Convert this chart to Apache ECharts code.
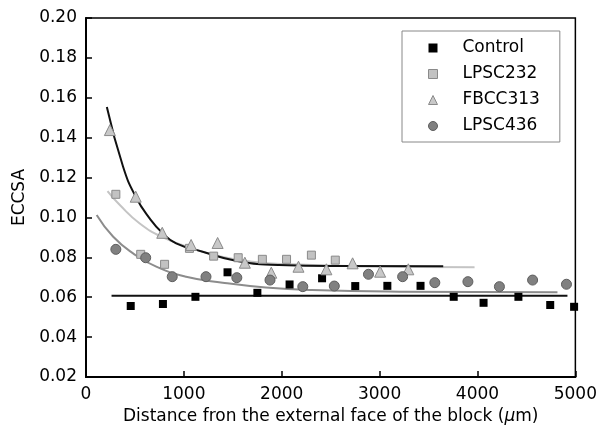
<!DOCTYPE html>
<html><head><meta charset="utf-8">
<script src="https://cdn.jsdelivr.net/npm/echarts@6/dist/echarts.min.js"></script>
<style>html,body{margin:0;padding:0;background:#fff}#c{width:600px;height:431px}</style>
</head><body><div id="c"></div>
<script>
// ---- data ----
const seriesNames = ['Control', 'LPSC232', 'FBCC313', 'LPSC436'];
const xTicks = [0, 1000, 2000, 3000, 4000, 5000];
const yTicks = [0.02, 0.04, 0.06, 0.08, 0.10, 0.12, 0.14, 0.16, 0.18, 0.20];

const controlX = [457, 786, 1118, 1446, 1751, 2080, 2412, 2751, 3079, 3418, 3757, 4062, 4418, 4743, 4987];
const controlY = [0.0556, 0.0566, 0.0602, 0.0725, 0.0622, 0.0664, 0.0695, 0.0656, 0.0657, 0.0657, 0.0602, 0.0572, 0.0602, 0.0561, 0.0552];

const lpsc232X = [305, 559, 803, 1057, 1304, 1555, 1802, 2049, 2303, 2547];
const lpsc232Y = [0.1116, 0.0815, 0.0765, 0.0845, 0.0806, 0.0798, 0.0790, 0.0790, 0.0811, 0.0786];

const fbcc313X = [244, 508, 779, 1074, 1345, 1623, 1893, 2171, 2456, 2724, 3005, 3293];
const fbcc313Y = [0.1438, 0.1104, 0.0923, 0.0862, 0.0872, 0.0773, 0.0723, 0.0753, 0.0740, 0.0770, 0.0728, 0.0740];

const lpsc436X = [305, 610, 881, 1226, 1541, 1880, 2215, 2537, 2886, 3235, 3564, 3902, 4224, 4563, 4909];
const lpsc436Y = [0.0840, 0.0798, 0.0703, 0.0703, 0.0698, 0.0686, 0.0653, 0.0656, 0.0715, 0.0703, 0.0673, 0.0678, 0.0653, 0.0686, 0.0665];

// fitted curves as drawn in the picture
const controlFitX = [261, 4919];
const controlFitY = [0.0607, 0.0607];
const lpsc232FitX = [220, 346, 549, 786, 1057, 1362, 1700, 2107, 2800, 3970];
const lpsc232FitY = [0.1132, 0.1062, 0.0970, 0.0900, 0.0850, 0.0806, 0.0778, 0.0765, 0.0755, 0.0750];
const fbcc313FitX = [213, 379, 508, 650, 779, 921, 1192, 1531, 1972, 2600, 3650];
const fbcc313FitY = [0.1554, 0.1254, 0.1104, 0.0995, 0.0923, 0.0870, 0.0828, 0.0783, 0.0761, 0.0756, 0.0755];
const lpsc436FitX = [109, 278, 481, 718, 1023, 1396, 1836, 2310, 3200, 4817];
const lpsc436FitY = [0.1012, 0.0903, 0.0820, 0.0753, 0.0703, 0.0673, 0.0649, 0.0636, 0.0628, 0.0625];

const zip = (xs, ys) => xs.map((x, i) => [x, ys[i]]);
const FONT = 'DejaVu Sans';

const chart = echarts.init(document.getElementById('c'), null, {renderer: 'canvas'});

function fitLine(xs, ys, color) {
  return {
    type: 'line', data: zip(xs, ys), smooth: 0.5,
    symbol: 'none', lineStyle: {color: color, width: 2}, z: 1, silent: true
  };
}

const styles = {
  Control: {symbol: 'rect', size: 8, itemStyle: {color: '#000', borderWidth: 0, opacity: 1}},
  LPSC232: {symbol: 'rect', size: 8, itemStyle: {color: '#c2c2c2', borderColor: '#8a8a8a', borderWidth: 1, opacity: 1}},
  FBCC313: {symbol: 'triangle', size: 11, itemStyle: {color: '#c8c8c8', borderColor: '#8a8a8a', borderWidth: 1, opacity: 1}},
  LPSC436: {symbol: 'circle', size: 10, itemStyle: {color: '#808080', borderColor: '#5e5e5e', borderWidth: 1, opacity: 1}}
};
const pointData = {
  Control: zip(controlX, controlY),
  LPSC232: zip(lpsc232X, lpsc232Y),
  FBCC313: zip(fbcc313X, fbcc313Y),
  LPSC436: zip(lpsc436X, lpsc436Y)
};

chart.setOption({
  animation: false,
  backgroundColor: '#fff',
  grid: {left: 86, right: 22, top: 18, bottom: 54, show: true, borderColor: '#000', borderWidth: 1.5},
  legend: {
    data: seriesNames.map(n => ({name: n, icon: styles[n].symbol, itemStyle: styles[n].itemStyle})),
    orient: 'vertical', left: 402, top: 31,
    padding: [7, 20, 6, 26],
    itemWidth: 9, itemHeight: 9, itemGap: 6,
    borderColor: '#888', borderWidth: 1,
    textStyle: {fontFamily: FONT, fontSize: 17, color: '#000', lineHeight: 20, padding: [0, 0, 0, 20]}
  },
  xAxis: {
    type: 'value', min: 0, max: 5000, interval: 1000,
    name: 'Distance fron the external face of the block ({i|μ}m)',
    nameLocation: 'middle', nameGap: 26,
    nameTextStyle: {fontFamily: FONT, fontSize: 17, color: '#000',
      rich: {i: {fontFamily: FONT, fontSize: 17, fontStyle: 'italic', color: '#000'}}},
    axisLine: {lineStyle: {color: '#000', width: 2}},
    axisTick: {inside: true, length: 6, lineStyle: {color: '#000', width: 1.5}},
    axisLabel: {fontFamily: FONT, fontSize: 17, color: '#000', margin: 9,
      formatter: v => xTicks.includes(v) ? String(v) : ''},
    splitLine: {show: false}
  },
  yAxis: {
    type: 'value', min: 0.02, max: 0.20, interval: 0.02,
    name: 'ECCSA', nameLocation: 'middle', nameGap: 50,
    nameTextStyle: {fontFamily: FONT, fontSize: 17, color: '#000'},
    axisLine: {lineStyle: {color: '#000', width: 2}},
    axisTick: {inside: true, length: 6, lineStyle: {color: '#000', width: 1.5}},
    axisLabel: {fontFamily: FONT, fontSize: 17, color: '#000', margin: 9,
      formatter: v => v.toFixed(2)},
    splitLine: {show: false}
  },
  series: [
    fitLine(lpsc436FitX, lpsc436FitY, '#8c8c8c'),
    fitLine(lpsc232FitX, lpsc232FitY, '#c4c4c4'),
    fitLine(controlFitX, controlFitY, '#111'),
    fitLine(fbcc313FitX, fbcc313FitY, '#111')
  ].concat(seriesNames.map(n => ({
    name: n, type: 'scatter', data: pointData[n], symbol: styles[n].symbol, symbolSize: styles[n].size,
    itemStyle: styles[n].itemStyle, z: 3
  })))
});
</script></body></html>
